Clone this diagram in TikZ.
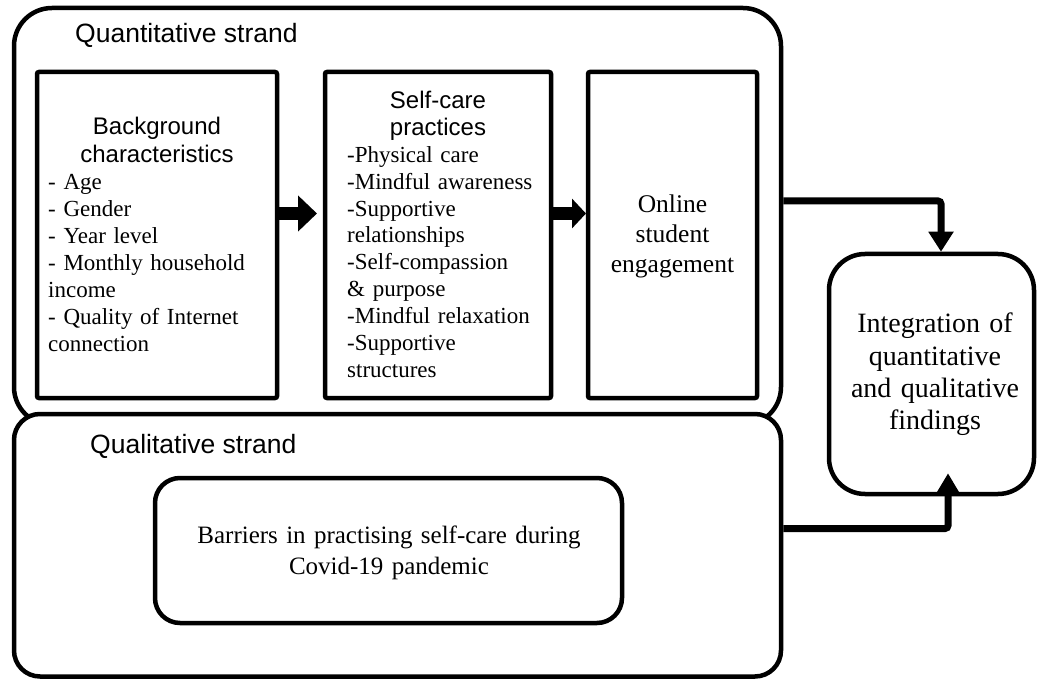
\documentclass[tikz,border=0pt]{standalone}
\usepackage{fontspec}
\setmainfont{Liberation Serif}
\setsansfont{Liberation Sans}
\usetikzlibrary{arrows.meta,calc}
\begin{document}
\begin{tikzpicture}[x=1pt,y=-1pt,
  box/.style={draw, line width=4.5pt, inner sep=0pt, rounded corners=#1},
  box/.default=2pt,
  strand/.style={font=\sffamily\fontsize{26.5}{30}\selectfont, inner sep=0pt},
  head/.style={font=\sffamily\fontsize{24}{27.5}\selectfont, align=center, inner sep=0pt},
  list/.style={font=\fontsize{23}{26.9}\selectfont, align=left, inner sep=0pt},
  ctext/.style={align=center, inner sep=0pt},
  blockarrow/.style={line width=13pt},
  conn/.style={line width=7pt, rounded corners=3pt}
]
\useasboundingbox (0,0) rectangle (1037,679);

% strands
\node[box=38pt, minimum width=767pt, minimum height=417pt] (quant) at (397.5,216.5) {};
\node[box=26pt, fill=white, minimum width=767pt, minimum height=262.5pt] (qual) at (397.5,545.25) {};

% inner boxes
\node[box, minimum width=240pt, minimum height=326pt] (bg) at (157,235) {};
\node[box, minimum width=226pt, minimum height=326pt] (sc) at (438,235) {};
\node[box, minimum width=169pt, minimum height=326pt] (on) at (672.5,235) {};
\node[box=36pt, minimum width=205pt, minimum height=240pt] (integ) at (931.5,374) {};
\node[box=25pt, minimum width=467pt, minimum height=145pt] (barr) at (388.5,550.5) {};

% labels
\node[strand, anchor=base west] (quantlabel) at (75,42.7) {Quantitative strand};
\node[strand, anchor=base west] (quallabel) at (90,453.3) {Qualitative strand};

\node[head, anchor=base, text width=230pt] (bghead) at (157,135) {Background\\characteristics};
\node[list, anchor=base west, text width=225pt] (bglist) at (48,190)
  {- Age\\- Gender\\- Year level\\- Monthly household\\income\\- Quality of Internet\\connection};

\node[head, anchor=base, text width=220pt] (schead) at (438,108.3) {Self-care\\practices};
\node[list, anchor=base west, text width=205pt] (sclist) at (347,162.3)
  {-Physical care\\-Mindful awareness\\-Supportive\\relationships\\-Self-compassion\\\& purpose\\-Mindful relaxation\\-Supportive\\structures};

\node[ctext, font=\fontsize{25.5}{30.2}\selectfont, anchor=base, text width=160pt] (ontext) at (672.5,212.3)
  {Online\\student\\engagement};

\node[ctext, font=\fontsize{28}{32.3}\selectfont, anchor=base, text width=200pt] (integtext) at (935,333)
  {Integration of\\quantitative\\and qualitative\\findings};

\node[ctext, font=\fontsize{25}{31}\selectfont, anchor=base, text width=440pt] (barrtext) at (389,543.3)
  {Barriers in practising self-care during\\Covid-19 pandemic};

% block arrows
\coordinate (a1) at (317,213.5);
\draw[blockarrow, -{Triangle[length=19pt,width=35pt]}] (bg.east |- a1) -- (a1);
\coordinate (a2) at (586,213.5);
\draw[blockarrow, -{Triangle[length=14pt,width=29pt]}] (sc.east |- a2) -- (a2);

% connectors to integration
\coordinate (k1) at (941,201);
\draw[conn, -{Triangle[length=20pt,width=24pt]}] (quant.east |- k1) -| (k1 |- integ.north);
\coordinate (k2) at (948,528.5);
\draw[conn, -{Triangle[length=20pt,width=22pt]}] (qual.east |- k2) -| ($(k2 |- integ.south)+(0,-23)$);
\end{tikzpicture}
\end{document}
